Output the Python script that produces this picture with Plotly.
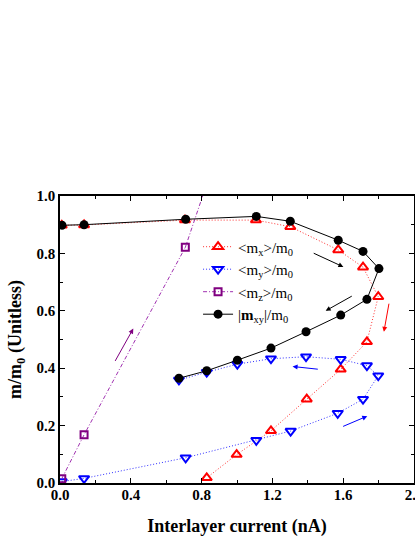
import plotly.graph_objects as go

# ---- data ----
mx_x = [0.01, 0.136, 0.706, 1.107, 1.301, 1.572, 1.712, 1.798, 1.734, 1.586, 1.394, 1.192, 0.998, 0.829]
mx_y = [0.898, 0.899, 0.916, 0.916, 0.893, 0.812, 0.752, 0.649, 0.492, 0.396, 0.292, 0.182, 0.099, 0.018]

my_x = [0.01, 0.136, 0.71, 1.109, 1.303, 1.569, 1.712, 1.798, 1.734, 1.586, 1.39, 1.192, 1.002, 0.829, 0.672]
my_y = [0.005, 0.016, 0.088, 0.149, 0.181, 0.243, 0.292, 0.374, 0.409, 0.431, 0.440, 0.433, 0.414, 0.386, 0.359]

mz_x = [0.01, 0.136, 0.708, 0.83]
mz_y = [0.015, 0.168, 0.821, 1.044]

mxy_x = [0.011, 0.136, 0.710, 1.109, 1.301, 1.572, 1.712, 1.802, 1.734, 1.586, 1.390, 1.192, 1.002, 0.829, 0.672]
mxy_y = [0.898, 0.900, 0.919, 0.929, 0.912, 0.846, 0.807, 0.747, 0.640, 0.585, 0.527, 0.470, 0.428, 0.391, 0.365]

# arrows: (tail_x, tail_y, head_x, head_y, color)
arrows = [
    (0.307, 0.420, 0.414, 0.538, "#800080"),
    (1.425, 0.803, 1.601, 0.753, "#000000"),
    (1.657, 0.654, 1.501, 0.600, "#000000"),
    (1.860, 0.630, 1.830, 0.527, "#FF0000"),
    (1.465, 0.396, 1.314, 0.406, "#0000FF"),
    (1.591, 0.195, 1.736, 0.233, "#0000FF"),
]

x_ticks = [0.0, 0.4, 0.8, 1.2, 1.6, 2.0]
y_ticks = [0.0, 0.2, 0.4, 0.6, 0.8, 1.0]

FONT = "Liberation Serif"

fig = go.Figure()
fig.add_trace(go.Scatter(
    x=mx_x, y=mx_y, mode="lines+markers",
    name="&lt;m<sub>x</sub>&gt;/m<sub>0</sub>",
    line=dict(color="#FF3030", width=1, dash="1px,2px"),
    marker=dict(symbol="triangle-up-open", size=9, color="#FF0000", line=dict(width=2, color="#FF0000")),
))
fig.add_trace(go.Scatter(
    x=my_x, y=my_y, mode="lines+markers",
    name="&lt;m<sub>y</sub>&gt;/m<sub>0</sub>",
    line=dict(color="#3030FF", width=1, dash="1px,2px"),
    marker=dict(symbol="triangle-down-open", size=9, color="#0000FF", line=dict(width=2, color="#0000FF")),
))
fig.add_trace(go.Scatter(
    x=mz_x, y=mz_y, mode="lines+markers",
    name="&lt;m<sub>z</sub>&gt;/m<sub>0</sub>",
    line=dict(color="#A030B0", width=1, dash="4px,2px,1px,2px"),
    marker=dict(symbol="square-open", size=7, color="#800080", line=dict(width=2, color="#800080")),
))
fig.add_trace(go.Scatter(
    x=mxy_x, y=mxy_y, mode="lines+markers",
    name="|<b>m</b><sub>xy</sub>|/m<sub>0</sub>",
    line=dict(color="#000000", width=1),
    marker=dict(symbol="circle", size=9, color="#000000"),
))

for tx, ty, hx, hy, c in arrows:
    fig.add_annotation(
        x=hx, y=hy, ax=tx, ay=ty, xref="x", yref="y", axref="x", ayref="y",
        showarrow=True, arrowhead=2, arrowsize=1, arrowwidth=1, arrowcolor=c, text="",
    )

axis_common = dict(
    showline=True, linecolor="black", linewidth=1.5, mirror="ticks",
    ticks="inside", ticklen=5, tickwidth=1, tickcolor="black",
    showgrid=False, zeroline=False, automargin=False,
    ticklabeloverflow="allow",
    tickfont=dict(family=FONT, size=15, color="black", weight="bold"),
)

fig.update_xaxes(
    range=[0, 2.0], tickvals=x_ticks, ticktext=[f"{v:.1f}" for v in x_ticks],
    minor=dict(ticks="inside", ticklen=3, dtick=0.2, tick0=0, tickcolor="black"),
    ticklabelstandoff=-3,
    title=dict(text="Interlayer current (nA)", font=dict(family=FONT, size=18, color="black", weight="bold"), standoff=20),
    **axis_common,
)
fig.update_yaxes(
    range=[0, 1.0], tickvals=y_ticks, ticktext=[f"{v:.1f}" for v in y_ticks],
    minor=dict(ticks="inside", ticklen=3, dtick=0.1, tick0=0, tickcolor="black"),
    title=dict(text="m/m<sub>0</sub> (Unitless)", font=dict(family=FONT, size=18, color="black", weight="bold"), standoff=10),
    **axis_common,
)

fig.update_layout(
    width=415, height=537,
    margin=dict(l=60, r=1, t=196, b=54),
    paper_bgcolor="white", plot_bgcolor="white",
    font=dict(family=FONT, color="black"),
    legend=dict(
        x=0.39, y=0.88, xanchor="left", yanchor="top",
        bgcolor="rgba(0,0,0,0)", borderwidth=0,
        font=dict(family=FONT, size=15, color="black"),
        tracegroupgap=0,
    ),
    showlegend=True,
)

fig.write_html(
    "out.html",
    config={"displayModeBar": False},
    post_script=(
        "document.body.style.margin='0';"
        "document.body.style.overflow='hidden';"
        "document.documentElement.style.overflow='hidden';"
    ),
)
